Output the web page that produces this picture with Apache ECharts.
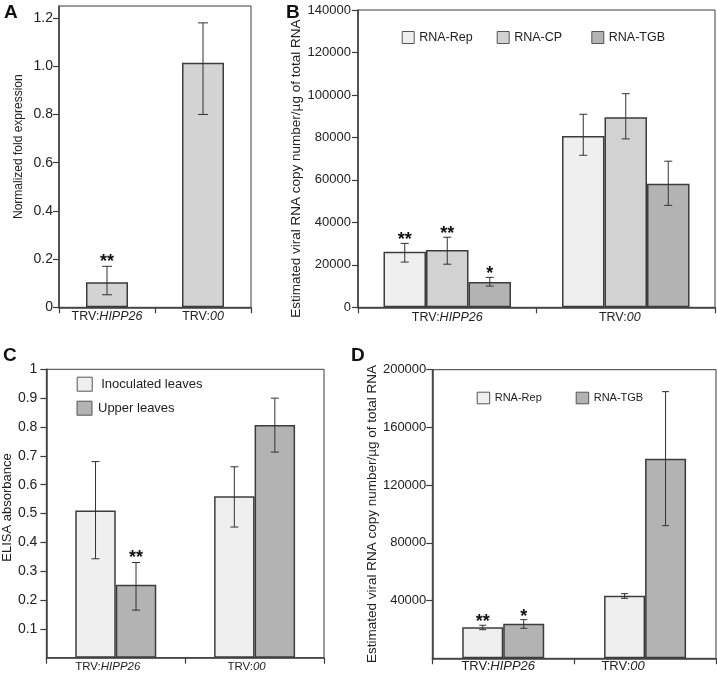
<!DOCTYPE html>
<html><head><meta charset="utf-8">
<script src="https://cdn.jsdelivr.net/npm/echarts@6/dist/echarts.min.js"></script>
<style>html,body{margin:0;padding:0;background:#fff}#c{width:717px;height:675px}</style>
</head><body><div id="c"></div>
<script>
// ---------- data ----------
const categories = ['TRV:HIPP26', 'TRV:00'];

// Panel A: normalized fold expression
const aMean  = [0.104, 1.015];
const aLow   = [0.052, 0.800];
const aHigh  = [0.170, 1.180];
const aStars = ['**', ''];
const aTicks = [0, 0.2, 0.4, 0.6, 0.8, 1.0, 1.2];

// Panel B: viral RNA copy number
const bRepMean = [26200, 80700], bRepLow = [21300, 71600], bRepHigh = [30100, 90900], bRepStars = ['**', ''];
const bCpMean  = [27000, 89500], bCpLow  = [20300, 79300], bCpHigh  = [33000, 100600], bCpStars = ['**', ''];
const bTgbMean = [11900, 58200], bTgbLow = [10000, 48000], bTgbHigh = [14100, 68800], bTgbStars = ['*', ''];
const bTicks = [0, 20000, 40000, 60000, 80000, 100000, 120000, 140000];

// Panel C: ELISA absorbance
const cInocMean = [0.510, 0.560], cInocLow = [0.343, 0.453], cInocHigh = [0.680, 0.662], cInocStars = ['', ''];
const cUppMean  = [0.253, 0.807], cUppLow  = [0.165, 0.713], cUppHigh  = [0.330, 0.900], cUppStars = ['**', ''];
const cTicks = [0.1, 0.2, 0.3, 0.4, 0.5, 0.6, 0.7, 0.8, 0.9, 1];

// Panel D: viral RNA copy number
const dRepMean = [21500, 43400], dRepLow = [19800, 41600], dRepHigh = [22900, 44800], dRepStars = ['**', ''];
const dTgbMean = [24000, 138300], dTgbLow = [20800, 91900], dTgbHigh = [26800, 184800], dTgbStars = ['*', ''];
const dTicks = [40000, 80000, 120000, 160000, 200000];

// ---------- styles ----------
const FONT = "'Liberation Sans', Arial, sans-serif";
const INK = '#222';
const EDGE = '#3c3c3c';
const C_LIGHT = '#efefef', C_MID = '#d2d2d2', C_DARK = '#b3b3b3', C_A = '#d3d3d3';

const chart = echarts.init(document.getElementById('c'));

function xAx(gi, fs, margin, offs) {
  const rich = { i: { fontStyle: 'italic', fontFamily: FONT, fontSize: fs, color: INK } };
  offs.forEach((o, k) => { rich['s' + k] = { width: Math.max(1, Math.abs(o) * 2), fontSize: fs }; });
  return {
    type: 'category', gridIndex: gi, data: categories,
    axisLine: { lineStyle: { color: EDGE, width: 1.5 } },
    axisTick: { show: true, interval: 0, length: 6, lineStyle: { color: EDGE, width: 1.2 } },
    axisLabel: {
      interval: 0, color: INK, fontFamily: FONT, fontSize: fs, margin: margin,
      formatter: (v, idx) => {
        const p = v.split(':');
        const core = p[0] + ':{i|' + p[1] + '}';
        const o = offs[idx] || 0;
        if (o < 0) return core + '{s' + idx + '| }';
        if (o > 0) return '{s' + idx + '| }' + core;
        return core;
      },
      rich: rich
    }
  };
}
function yAx(gi, max, ticks, fs, margin, fmt, name, nfs, ngap, npad) {
  return {
    type: 'value', gridIndex: gi, min: 0, max: max,
    name: name, nameLocation: 'middle', nameGap: ngap,
    nameTextStyle: { fontFamily: FONT, fontSize: nfs, color: INK, padding: npad },
    splitLine: { show: false },
    axisLine: { show: true, lineStyle: { color: EDGE, width: 1.5 } },
    axisTick: { show: true, length: 6, customValues: ticks, lineStyle: { color: EDGE, width: 1.2 } },
    axisLabel: { customValues: ticks, color: INK, fontFamily: FONT, fontSize: fs, margin: margin, formatter: fmt }
  };
}
function barS(name, gi, data, color, bw) {
  return {
    type: 'bar', name: name, xAxisIndex: gi, yAxisIndex: gi, data: data,
    barWidth: bw, barGap: '0%',
    itemStyle: { color: color, borderColor: EDGE, borderWidth: 1.5 },
    silent: true
  };
}
function errS(gi, low, high, stars, pos, n, bw, cap, starFs, starOff) {
  return {
    type: 'custom', xAxisIndex: gi, yAxisIndex: gi, z: 5, silent: true,
    data: low.map((l, i) => [i, l, high[i]]),
    encode: { x: 0, y: [1, 2] },
    renderItem: (params, api) => {
      const i = api.value(0);
      const p1 = api.coord([i, api.value(1)]);
      const p2 = api.coord([i, api.value(2)]);
      const x = p1[0] + (pos - (n - 1) / 2) * bw;
      const ls = { stroke: '#333', lineWidth: 1 };
      const ch = [
        { type: 'line', shape: { x1: x, y1: p1[1], x2: x, y2: p2[1] }, style: ls },
        { type: 'line', shape: { x1: x - cap / 2, y1: p1[1], x2: x + cap / 2, y2: p1[1] }, style: ls },
        { type: 'line', shape: { x1: x - cap / 2, y1: p2[1], x2: x + cap / 2, y2: p2[1] }, style: ls }
      ];
      const s = stars[params.dataIndex];
      if (s) ch.push({ type: 'text', style: { text: s, x: x, y: p2[1] - starOff, fill: '#111',
        font: 'bold ' + starFs + 'px ' + FONT, textAlign: 'center', textVerticalAlign: 'middle' } });
      return { type: 'group', children: ch };
    }
  };
}
function leg(name, left, top, iw, ih, fs, pad) {
  return {
    data: [name], left: left, top: top, itemWidth: iw, itemHeight: ih, icon: 'rect',
    padding: 0, selectedMode: false,
    itemStyle: { borderColor: '#555', borderWidth: 1 },
    textStyle: { fontFamily: FONT, fontSize: fs, color: INK, padding: [0, 0, 0, pad] }
  };
}

const fmtA = v => v === 0 ? '0' : v.toFixed(1);
const fmtC = v => v === 1 ? '1' : v.toFixed(1);
const fmtInt = v => String(v);

const BW_A = 42, BW_B = 42.5, BW_C = 40.5, BW_D = 41;

chart.setOption({
  animation: false,
  grid: [
    { left: 59, top: 6, width: 192, height: 301.3, show: true, borderColor: EDGE, borderWidth: 1, containLabel: false },
    { left: 358, top: 10, width: 357, height: 297.3, show: true, borderColor: EDGE, borderWidth: 1, containLabel: false },
    { left: 46, top: 369.3, width: 278, height: 288.4, show: true, borderColor: EDGE, borderWidth: 1, containLabel: false },
    { left: 432.3, top: 369.7, width: 283.7, height: 288.6, show: true, borderColor: EDGE, borderWidth: 1, containLabel: false }
  ],
  xAxis: [xAx(0, 12.5, 3, [0, 0]), xAx(1, 12.5, 4, [0, -6]), xAx(2, 11.5, 3, [-8, -8]), xAx(3, 13, 2, [-5, -22])],
  yAxis: [
    yAx(0, 1.25, aTicks, 14, 6, fmtA, 'Normalized fold expression', 12, 34, [0, 0, 0, 20]),
    yAx(1, 140000, bTicks, 13, 7, fmtInt, 'Estimated viral RNA copy number/µg of total RNA', 13.5, 47.5, [0, 20, 0, 0]),
    yAx(2, 1, cTicks, 14, 9, fmtC, 'ELISA absorbance', 13, 28, [0, 0, 0, 12]),
    yAx(3, 200000, dTicks, 13, 6, fmtInt, 'Estimated viral RNA copy number/µg of total RNA', 13.5, 47, [0, 0, 0, 0])
  ],
  legend: [
    leg('RNA-Rep', 401.7, 31, 12, 12, 12.5, 0),
    leg('RNA-CP', 496.7, 31, 12, 12, 12.5, 0),
    leg('RNA-TGB', 591.3, 31, 12, 12, 12.5, 0),
    leg('Inoculated leaves', 76.7, 376.7, 15, 14, 13, 4),
    leg('Upper leaves', 76.5, 400.7, 15, 14, 13, 1),
    leg('RNA-Rep', 476.7, 391.7, 12.5, 11.6, 11, 0),
    leg('RNA-TGB', 575.7, 391.7, 12.5, 11.6, 11, 0)
  ],
  graphic: [
    { type: 'text', left: 4, top: 3, style: { text: 'A', font: 'bold 19px ' + FONT, fill: '#111' } },
    { type: 'text', left: 286, top: 3, style: { text: 'B', font: 'bold 19px ' + FONT, fill: '#111' } },
    { type: 'text', left: 3, top: 346, style: { text: 'C', font: 'bold 19px ' + FONT, fill: '#111' } },
    { type: 'text', left: 351, top: 346, style: { text: 'D', font: 'bold 19px ' + FONT, fill: '#111' } }
  ],
  series: [
    barS('A', 0, aMean, C_A, BW_A),
    errS(0, aLow, aHigh, aStars, 0, 1, BW_A, 10, 18, 4),

    barS('RNA-Rep', 1, bRepMean, C_LIGHT, BW_B),
    barS('RNA-CP', 1, bCpMean, C_MID, BW_B),
    barS('RNA-TGB', 1, bTgbMean, C_DARK, BW_B),
    errS(1, bRepLow, bRepHigh, bRepStars, 0, 3, BW_B, 8, 18, 3),
    errS(1, bCpLow, bCpHigh, bCpStars, 1, 3, BW_B, 8, 18, 3),
    errS(1, bTgbLow, bTgbHigh, bTgbStars, 2, 3, BW_B, 8, 18, 3),

    barS('Inoculated leaves', 2, cInocMean, C_LIGHT, BW_C),
    barS('Upper leaves', 2, cUppMean, C_DARK, BW_C),
    errS(2, cInocLow, cInocHigh, cInocStars, 0, 2, BW_C, 8, 18, 4),
    errS(2, cUppLow, cUppHigh, cUppStars, 1, 2, BW_C, 8, 18, 4),

    barS('RNA-Rep', 3, dRepMean, C_LIGHT, BW_D),
    barS('RNA-TGB', 3, dTgbMean, C_DARK, BW_D),
    errS(3, dRepLow, dRepHigh, dRepStars, 0, 2, BW_D, 7, 18, 3),
    errS(3, dTgbLow, dTgbHigh, dTgbStars, 1, 2, BW_D, 7, 18, 3)
  ]
});
</script></body></html>
